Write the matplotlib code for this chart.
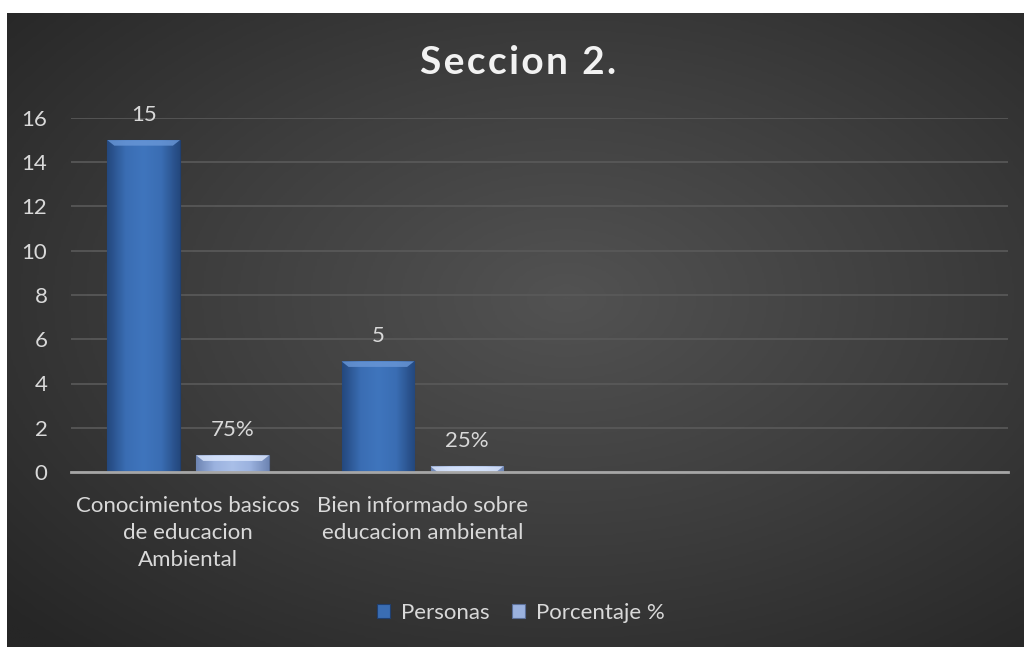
import numpy as np
import matplotlib
matplotlib.use('Agg')
import matplotlib.pyplot as plt
from matplotlib.colors import LinearSegmentedColormap

plt.rcParams['font.family'] = ['Lato', 'DejaVu Sans']

categories = ['Conocimientos basicos\nde educacion\nAmbiental',
              'Bien informado sobre\neducacion ambiental', '', '']
personas = [15, 5, None, None]
porcentaje = [0.75, 0.25, None, None]
porcentaje_labels = ['75%', '25%']
series_names = ['Personas', 'Porcentaje %']
yticks = [0, 2, 4, 6, 8, 10, 12, 14, 16]
title = 'Seccion 2.'

TXT = '#d9d9d9'
W, H = 1024, 647
fig = plt.figure(figsize=(W / 100, H / 100), dpi=100, facecolor='white')

# dark radial background (chart area, white margin on left/top)
bg = fig.add_axes([7 / W, 0, 1 - 7 / W, 1 - 13 / H])
bg.set_axis_off()
yy, xx = np.mgrid[0:1:300j, 0:1:480j]
r = np.sqrt(((xx - 0.55) / 0.75) ** 2 + ((yy - 0.45) / 0.75) ** 2)
r = np.clip(r, 0, 1)
bg_cmap = LinearSegmentedColormap.from_list('bg', ['#525252', '#3d3d3d', '#262626'])
bg.imshow(r, cmap=bg_cmap, aspect='auto', extent=[0, 1, 0, 1], interpolation='bilinear')
bg.set_xlim(0, 1); bg.set_ylim(0, 1)

ax = fig.add_axes([71 / W, 1 - 472 / H, (1008 - 71) / W, (472 - 118) / H])
ax.patch.set_alpha(0)
x = np.arange(len(categories))
bw, off = 0.31, 0.19

p_vals = [v if v is not None else 0 for v in personas]
q_vals = [v if v is not None else 0 for v in porcentaje]

cm_p = LinearSegmentedColormap.from_list('p', ['#24487e', '#3a6db3', '#3f75bd', '#3a6db3', '#24487e'])
cm_q = LinearSegmentedColormap.from_list('q', ['#6f86b4', '#9bb2df', '#a9bfe8', '#9bb2df', '#6f86b4'])

b1 = ax.bar(x - off, p_vals, bw, color='#3a6db3', edgecolor='#1f3f70', lw=0.8, zorder=3, label=series_names[0])
b2 = ax.bar(x + off, q_vals, bw, color='#9bb2df', edgecolor='#5b6f98', lw=0.8, zorder=3, label=series_names[1])

# bevel shading inside each bar
grad = np.linspace(0, 1, 64)[None, :]
for bars, cm, top in ((b1, cm_p, '#6a98d8'), (b2, cm_q, '#dfeaff')):
    for b in bars:
        if b.get_height() <= 0:
            continue
        x0, w, h = b.get_x(), b.get_width(), b.get_height()
        im = ax.imshow(grad, cmap=cm, aspect='auto', extent=[x0, x0 + w, 0, h], zorder=3.5)
        im.set_clip_path(b)
        cap = min(h, 0.25)
        ax.fill([x0, x0 + w, x0 + w - 0.03, x0 + 0.03], [h, h, h - cap, h - cap],
                color=top, alpha=0.8, lw=0, zorder=3.6)

for b, v in zip(b1, personas):
    if v is not None:
        ax.annotate(f'{v}', (b.get_x() + b.get_width() / 2, v), xytext=(0, 18),
                    textcoords='offset points', ha='center', va='center', color=TXT, fontsize=16)
for b, v, lab in zip(b2, porcentaje, porcentaje_labels):
    ax.annotate(lab, (b.get_x() + b.get_width() / 2, v), xytext=(0, 18),
                textcoords='offset points', ha='center', va='center', color=TXT, fontsize=16)

ax.set_xlim(-0.5, len(categories) - 0.5)
ax.set_ylim(0, 16)
ax.set_yticks(yticks)
ax.set_xticks(x)
ax.set_xticklabels(categories, color=TXT, fontsize=16, linespacing=1.45)
ax.tick_params(axis='y', colors=TXT, labelsize=16, length=0, pad=17)
ax.tick_params(axis='x', length=0, pad=17)
for lab in ax.get_yticklabels():
    lab.set_color(TXT)
ax.grid(axis='y', color='#5a5a5a', lw=1.2, zorder=0)
ax.set_axisbelow(True)
for s in ('top', 'right', 'left'):
    ax.spines[s].set_visible(False)
ax.spines['bottom'].set_color('#a6a6a6')
ax.spines['bottom'].set_linewidth(2)
ax.spines['bottom'].set_zorder(4)

# slightly letter-spaced bold title
fig.text(518 / W, 1 - 63 / H, '\u200a'.join(title), ha='center', va='center',
         color='#f2f2f2', fontsize=28, fontweight='bold')

fig.legend(handles=[b1, b2], labels=series_names, loc='center', bbox_to_anchor=(521 / W, 1 - 613 / H),
           ncol=2, frameon=False, fontsize=16, labelcolor=TXT, handlelength=0.6, handleheight=0.6,
           handletextpad=0.5, columnspacing=1.0)

fig.savefig('out.png', dpi=100, facecolor=fig.get_facecolor())
